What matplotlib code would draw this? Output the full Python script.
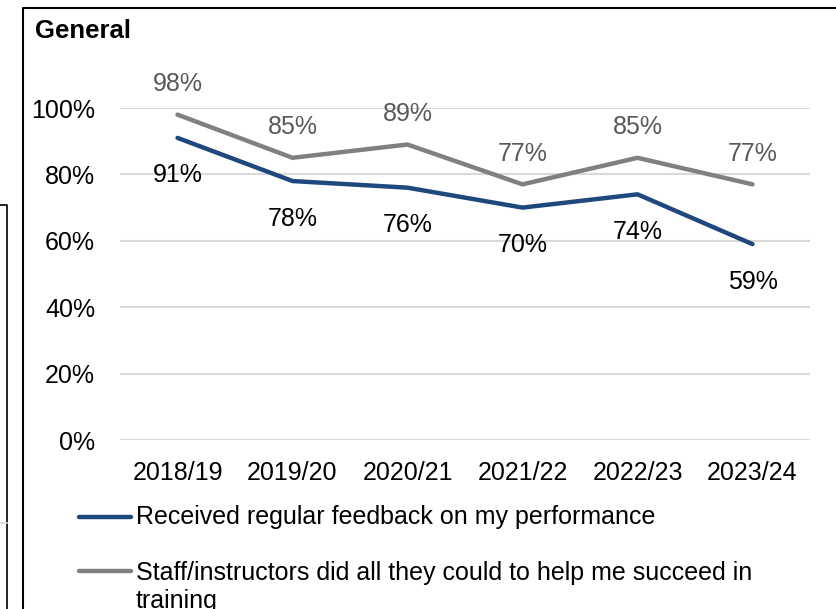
import matplotlib.pyplot as plt
from matplotlib.lines import Line2D

plt.rcParams['font.family'] = ['Liberation Sans', 'DejaVu Sans']

years = ['2018/19', '2019/20', '2020/21', '2021/22', '2022/23', '2023/24']
feedback = [91, 78, 76, 70, 74, 59]
staff_help = [98, 85, 89, 77, 85, 77]
series_names = ['Received regular feedback on my performance',
                'Staff/instructors did all they could to help me succeed in',
                'training']

blue = '#1F497D'
grey = '#808080'
fs = 18

W, H = 836, 609
fig = plt.figure(figsize=(W / 100, H / 100), dpi=100)


def fx(px):
    return px / W


def fy(py):
    return 1 - py / H


ax = fig.add_axes([fx(120), fy(440), fx(810) - fx(120), fy(108) - fy(440)])
x = range(len(years))
ax.plot(x, staff_help, color=grey, lw=3.2, solid_capstyle='round', zorder=3)
ax.plot(x, feedback, color=blue, lw=3.2, solid_capstyle='round', zorder=3)

for i, v in enumerate(staff_help):
    ax.annotate(f'{v}%', (i, v), xytext=(0, 22), textcoords='offset points',
                ha='center', va='center', fontsize=fs, color='#595959')
for i, v in enumerate(feedback):
    ax.annotate(f'{v}%', (i, v), xytext=(0, -27), textcoords='offset points',
                ha='center', va='center', fontsize=fs, color='black')

ax.set_xlim(-0.5, 5.5)
ax.set_ylim(0, 100)
ax.set_yticks(range(0, 101, 20))
ax.set_yticklabels([f'{t}%' for t in range(0, 101, 20)])
ax.set_xticks(list(x))
ax.set_xticklabels(years)
ax.tick_params(length=0, labelsize=fs)
ax.tick_params(axis='y', pad=18)
ax.tick_params(axis='x', pad=15)
ax.grid(axis='y', color='#D9D9D9', lw=1.5)
ax.set_axisbelow(True)
for s in ax.spines.values():
    s.set_visible(False)

fig.text(fx(35), fy(38), 'General', fontsize=18.5, fontweight='bold', va='baseline')

# legend drawn by hand so the handle sits on the first text line
fig.add_artist(Line2D([fx(79), fx(131)], [fy(517), fy(517)], color=blue, lw=3.2,
                      solid_capstyle='round'))
fig.text(fx(136), fy(524), series_names[0], fontsize=fs, va='baseline')
fig.add_artist(Line2D([fx(79), fx(131)], [fy(571), fy(571)], color=grey, lw=3.2,
                      solid_capstyle='round'))
fig.text(fx(136), fy(580), series_names[1], fontsize=fs, va='baseline')
fig.text(fx(136), fy(608), series_names[2], fontsize=fs, va='baseline')

# panel border and the edge of the neighbouring panel
fig.add_artist(Line2D([fx(23), fx(23), fx(840)], [fy(620), fy(8), fy(8)],
                      color='black', lw=1.5))
fig.add_artist(Line2D([fx(-2), fx(7), fx(7)], [fy(205), fy(205), fy(620)],
                      color='black', lw=1.2))
fig.add_artist(Line2D([fx(-2), fx(7)], [fy(523), fy(523)], color='#D9D9D9', lw=1.2))

fig.savefig('out.png', dpi=100)
